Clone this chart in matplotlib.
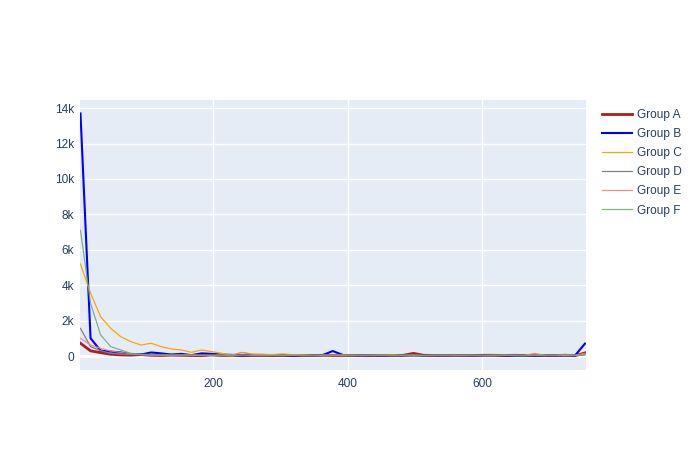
import numpy as np
import matplotlib
matplotlib.use('Agg')
import matplotlib.pyplot as plt
from matplotlib.ticker import FuncFormatter

plt.rcParams['font.family'] = ['Liberation Sans', 'DejaVu Sans']

# x positions (51 samples)
x_vals = [3 + 15 * i for i in range(51)]

group_a = [720, 290, 190, 100, 60, 50, 80, 40, 30, 50, 40, 30, 20, 60, 30,
           40, 20, 30, 40, 20, 30, 20, 20, 30, 40, 30, 20, 30, 20, 20, 30,
           20, 40, 150, 40, 30, 20, 30, 20, 30, 40, 40, 30, 40, 30, 20, 30,
           20, 30, 20, 170]
group_b = [13700, 1000, 300, 250, 200, 100, 80, 200, 150, 80, 120, 50, 150,
           120, 80, 60, 40, 50, 30, 40, 30, 20, 20, 20, 50, 280, 60, 20, 20,
           30, 20, 20, 20, 30, 20, 20, 20, 30, 20, 20, 30, 30, 20, 20, 20,
           20, 30, 20, 20, 20, 700]
group_c = [5200, 3550, 2220, 1560, 1090, 810, 620, 720, 530, 400, 340, 210,
           340, 250, 150, 50, 200, 120, 100, 80, 120, 80, 60, 40, 50, 40, 60,
           50, 30, 40, 50, 60, 40, 50, 30, 40, 30, 50, 40, 30, 40, 50, 40,
           30, 40, 50, 40, 30, 40, 30, 150]
group_d = [1560, 530, 300, 150, 100, 80, 60, 50, 40, 50, 40, 60, 30, 40, 50,
           30, 60, 40, 30, 20, 30, 40, 20, 30, 20, 30, 20, 30, 40, 20, 30,
           20, 30, 20, 30, 40, 20, 30, 20, 30, 20, 30, 40, 30, 20, 30, 20,
           30, 20, 30, 60]
group_e = [1000, 620, 430, 280, 200, 130, 80, 60, 50, 40, 60, 40, 30, 40, 50,
           60, 200, 100, 50, 40, 30, 40, 30, 20, 30, 40, 30, 20, 30, 40, 30,
           20, 30, 40, 30, 20, 30, 20, 30, 40, 30, 20, 30, 40, 30, 150, 40,
           30, 20, 30, 80]
group_f = [7100, 2970, 1190, 530, 340, 150, 100, 80, 60, 50, 40, 60, 50, 40,
           30, 40, 50, 30, 20, 30, 20, 30, 20, 30, 40, 30, 20, 30, 20, 30, 40,
           30, 20, 30, 20, 30, 40, 30, 20, 30, 20, 30, 40, 30, 20, 30, 40, 30,
           100, 40, 120]

labels = ['Group A', 'Group B', 'Group C', 'Group D', 'Group E', 'Group F']
series = [group_a, group_b, group_c, group_d, group_e, group_f]
colors = ['#b01c1c', '#0000ff', '#ffa500', '#808080', '#f08080', '#6aaa6a']
widths = [2.0, 1.5, 0.9, 0.9, 0.9, 0.9]
alphas = [1.0, 1.0, 1.0, 1.0, 0.9, 0.85]

fig = plt.figure(figsize=(7, 4.5), dpi=100)
ax = fig.add_axes([80 / 700, 80 / 450, 506 / 700, 270 / 450])
ax.set_facecolor('#E5ECF6')

for vals, lab, c, lw, a in zip(series, labels, colors, widths, alphas):
    ax.plot(x_vals, vals, color=c, lw=lw, alpha=a, label=lab)

ax.set_xlim(min(x_vals) - 0.7, max(x_vals) + 1.5)
ax.set_ylim(-790, 14460)
ax.set_xticks([200, 400, 600])
ax.set_yticks(range(0, 14001, 2000))
ax.yaxis.set_major_formatter(
    FuncFormatter(lambda v, p: '0' if v == 0 else f'{int(v / 1000)}k'))

ax.grid(True, color='white', lw=1)
ax.set_axisbelow(True)
ax.axhline(0, color='white', lw=2, zorder=0.5)
for s in ax.spines.values():
    s.set_visible(False)
ax.tick_params(length=0, labelsize=8.6, colors='#2a3f5f')
ax.tick_params(axis='y', pad=4)
ax.tick_params(axis='x', pad=6)

leg = ax.legend(loc='upper left', bbox_to_anchor=(597 / 700, 1 - 104 / 450),
                bbox_transform=fig.transFigure, frameon=False,
                fontsize=8.6, handlelength=2.5, handletextpad=0.45,
                labelspacing=0.6, borderaxespad=0)
for t in leg.get_texts():
    t.set_color('#2a3f5f')

fig.savefig('out.png', dpi=100)
